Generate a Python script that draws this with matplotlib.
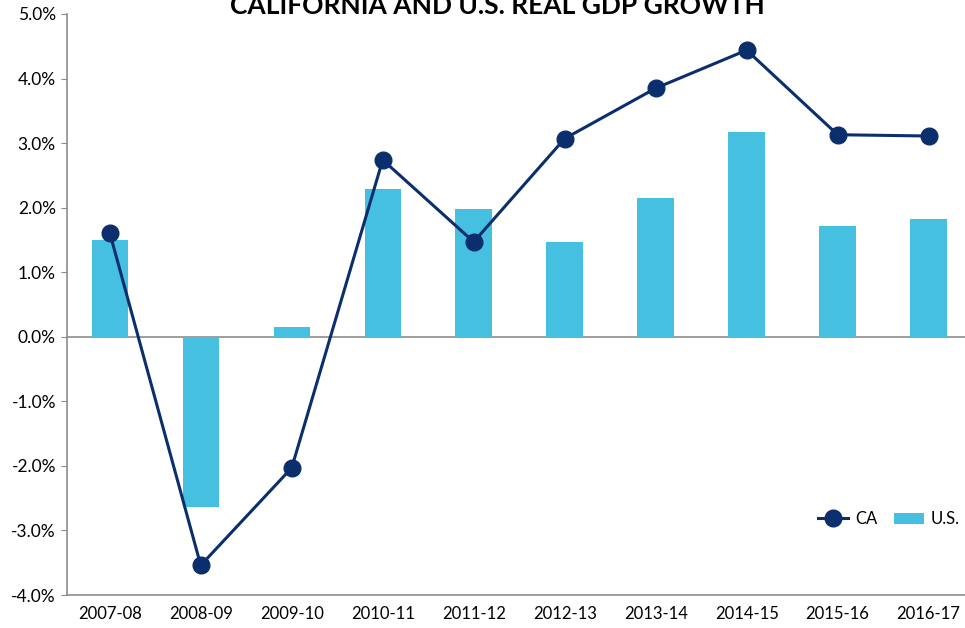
import matplotlib.pyplot as plt
from matplotlib.ticker import FuncFormatter

plt.rcParams['font.family'] = ['Lato', 'DejaVu Sans']

years = ['2007-08', '2008-09', '2009-10', '2010-11', '2011-12',
         '2012-13', '2013-14', '2014-15', '2015-16', '2016-17']
us_growth = [1.50, -2.63, 0.15, 2.29, 1.98, 1.47, 2.15, 3.17, 1.72, 1.83]
ca_growth = [1.61, -3.54, -2.03, 2.74, 1.47, 3.07, 3.85, 4.44, 3.13, 3.11]

W, H = 965, 628
fig = plt.figure(figsize=(W / 100, H / 100), dpi=100)
ax = fig.add_axes([67 / W, (H - 595) / H, (W - 67) / W, (595 - 14) / H])

x = range(len(years))
ax.bar(x, us_growth, width=0.4, color='#45c0e1', label='U.S.', zorder=2)
ax.plot(x, ca_growth, color='#0b2e6d', linewidth=2.2, marker='o',
        markersize=12, label='CA', zorder=3)
ax.axhline(0, color='#8c8c8c', linewidth=1.2, zorder=1)

ax.set_ylim(-4, 5)
ax.set_xlim(-0.47, 9.4)
ax.set_yticks(range(-4, 6))
ax.yaxis.set_major_formatter(FuncFormatter(lambda v, p: '%.1f%%' % v))
ax.set_xticks(list(x))
ax.set_xticklabels(years)

for side in ['top', 'right']:
    ax.spines[side].set_visible(False)
for side in ['left', 'bottom']:
    ax.spines[side].set_color('#8c8c8c')
    ax.spines[side].set_linewidth(1.2)
ax.tick_params(axis='y', length=4, color='#8c8c8c', labelsize=12.5, pad=4)
ax.tick_params(axis='x', length=0, labelsize=12, pad=8)

ax.legend(loc='upper left', bbox_to_anchor=(0.82, 0.17), frameon=False,
          ncol=2, fontsize=12, handlelength=1.8, columnspacing=1.0,
          handletextpad=0.4)

# title sits at the very top, partly above the figure edge as in the source
fig.text(497 / W, 1 - 14 / H, 'CALIFORNIA AND U.S. REAL GDP GROWTH',
         ha='center', va='baseline', fontsize=19, fontweight='bold')

fig.savefig('out.png', dpi=100)
